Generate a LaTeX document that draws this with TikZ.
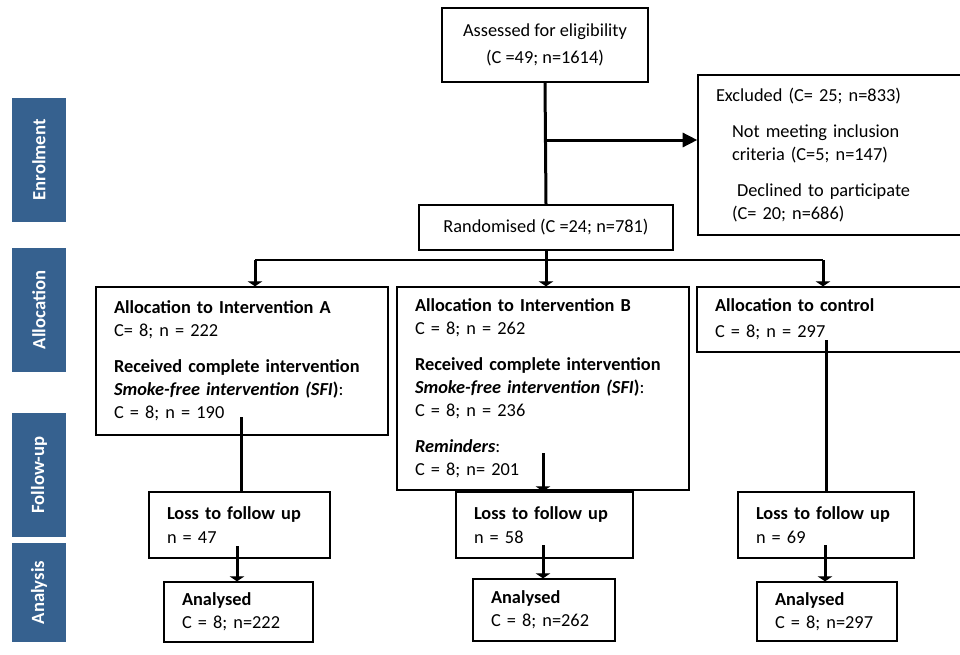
\documentclass[tikz,border=0pt]{standalone}
\usepackage{fontspec}
\setmainfont{Carlito}
\usetikzlibrary{arrows.meta,calc}
\definecolor{sideblue}{RGB}{54,97,143}
\frenchspacing
\tikzset{
  box/.style={draw=black, line width=1pt, inner xsep=13.5pt, inner ysep=0pt,
    align=left, font=\fontsize{13.75pt}{17.25pt}\selectfont\frenchspacing},
  cbox/.style={draw=black, line width=1pt, inner sep=0pt,
    align=center, font=\fontsize{13.75pt}{17.25pt}\selectfont\frenchspacing},
  side/.style={fill=sideblue, text=white, rotate=90, inner sep=0pt,
    font=\fontsize{14pt}{16pt}\selectfont\bfseries},
  thickline/.style={line width=2.25pt},
  thinline/.style={line width=1.1pt},
  teehead/.style={-{Triangle[length=3.75pt,width=11pt]}},
  bighead/.style={-{Triangle[length=11pt,width=10.5pt]}}
}
\begin{document}
\begin{tikzpicture}[x=0.75pt,y=-0.75pt]
\fill[white] (0,0) rectangle (960,654);
\useasboundingbox (0,0) rectangle (960,654);

% side labels
\node[side, minimum width=93pt, minimum height=40.5pt] (s1) at (39,160) {Enrolment};
\node[side, minimum width=93pt, minimum height=40.5pt] (s2) at (39,310) {Allocation};
\node[side, minimum width=93pt, minimum height=40.5pt] (s3) at (39,475) {Follow-up};
\node[side, minimum width=74.25pt, minimum height=40.5pt] (s4) at (39,592.5) {Analysis};

% top
\node[cbox, minimum width=154.5pt, minimum height=55.5pt] (T) at (545,45)
  {Assessed for eligibility\\[3pt](C =49; n=1614)};
\node[cbox, minimum width=190.5pt, minimum height=33.75pt] (R) at (546,227.5)
  {Randomised (C =24; n=781)};
\node[box, minimum width=210pt, minimum height=120pt, text width=183pt] (E) at (838,155)
  {Excluded (C= 25; n=833)\\[9.5pt]
   \hspace*{12pt}Not meeting inclusion\\
   \hspace*{12pt}criteria (C=5; n=147)\\[9.5pt]
   \hspace*{15.75pt}Declined to participate\\
   \hspace*{12pt}(C= 20; n=686)};

% allocation
\node[box, minimum width=219pt, minimum height=111pt, text width=192pt] (A) at (242,361)
  {\textbf{Allocation to Intervention A}\\
   C= 8; n = 222\\[9.75pt]
   \textbf{Received complete intervention}\\
   \textbf{\textit{Smoke-free intervention (SFI})}:\\
   C = 8; n = 190};
\node[box, minimum width=219pt, minimum height=152.25pt, text width=192pt] (B) at (543,388.5)
  {\textbf{Allocation to Intervention B}\\
   C = 8; n = 262\\[9.75pt]
   \textbf{Received complete intervention}\\
   \textbf{\textit{Smoke-free intervention (SFI})}:\\
   C = 8; n = 236\\[9.75pt]
   \textbf{\textit{Reminders}}:\\
   C = 8; n= 201};
\node[box, minimum width=210.75pt, minimum height=48.75pt, text width=183.75pt] (C) at (837.5,319.5)
  {\textbf{Allocation to control}\\[2pt]
   C = 8; n = 297};

% loss to follow up
\node[box, minimum width=135.75pt, minimum height=49.5pt, text width=108.75pt] (LA) at (239.5,525)
  {\textbf{Loss to follow up}\\[1pt] n = 47};
\node[box, minimum width=132.75pt, minimum height=49.5pt, text width=105.75pt] (LB) at (544.5,525)
  {\textbf{Loss to follow up}\\[1pt] n = 58};
\node[box, minimum width=132pt, minimum height=49.5pt, text width=105pt] (LC) at (826,525)
  {\textbf{Loss to follow up}\\[1pt] n = 69};

% analysed
\node[box, minimum width=111.75pt, minimum height=45pt, text width=84.75pt] (AA) at (238.5,612)
  {\textbf{Analysed}\\ C = 8; n=222};
\node[box, minimum width=106.5pt, minimum height=46.5pt, text width=79.5pt] (AB) at (544,610)
  {\textbf{Analysed}\\ C = 8; n=262};
\node[box, minimum width=105pt, minimum height=44.25pt, text width=78pt] (AC) at (827,611.5)
  {\textbf{Analysed}\\ C = 8; n=297};

% connectors
\coordinate (j1) at (545,140);
\draw[thickline] (T.south) -- (R.north);
\draw[thickline, bighead] (j1) -- (j1 -| E.west);

\coordinate (hl) at (255,260);
\coordinate (hr) at (823,260);
\draw[thinline] (hl) -- (hr);
\draw[thickline, teehead] (R.south) -- (R.south |- B.north);
\draw[thickline, teehead] (hl) -- (hl |- A.north);
\draw[thickline, teehead] (hr) -- (hr |- C.north);

\coordinate (a1) at (241,417);
\coordinate (b1) at (543,453);
\coordinate (c1) at (826,340);
\draw[thickline] (a1) -- (a1 |- LA.north);
\draw[thickline, teehead] (b1) -- (b1 |- LB.north);
\draw[thickline] (c1) -- (c1 |- LC.north);

\coordinate (a2) at (237,546);
\coordinate (b2) at (543,545);
\coordinate (c2) at (825,545);
\draw[thickline, teehead] (a2) -- (a2 |- AA.north);
\draw[thickline, teehead] (b2) -- (b2 |- AB.north);
\draw[thickline, teehead] (c2) -- (c2 |- AC.north);
\end{tikzpicture}
\end{document}
